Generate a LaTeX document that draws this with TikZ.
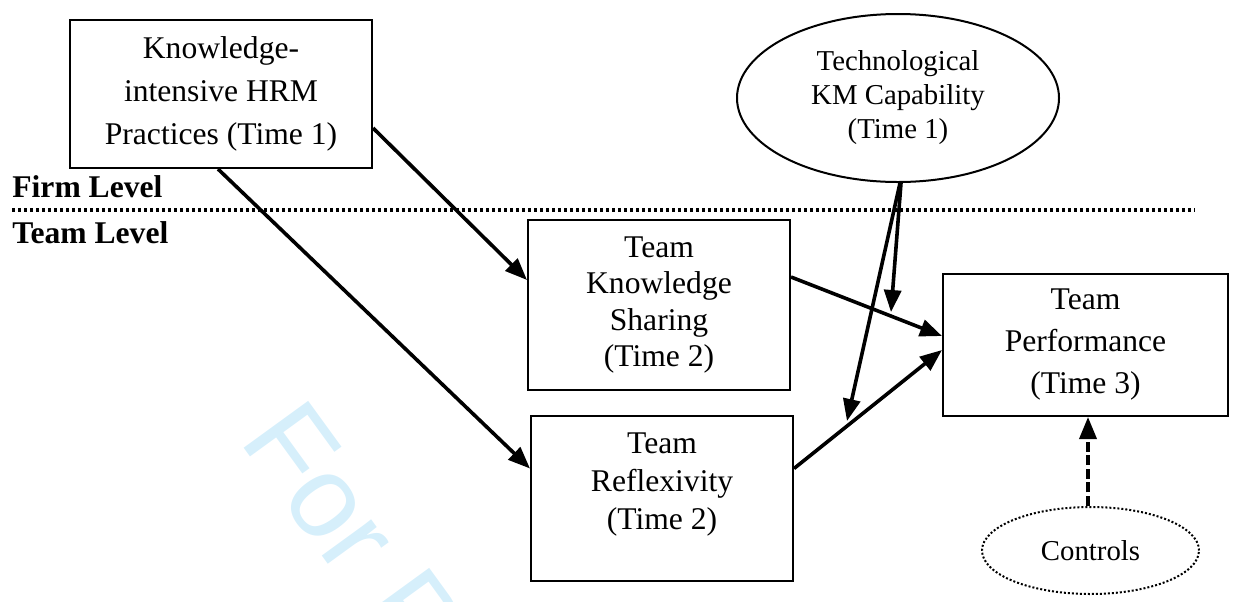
\documentclass[tikz,border=0pt]{standalone}
\usepackage{fontspec}
\setmainfont{Liberation Serif}
\newfontfamily\wmfont{Liberation Sans}
\usetikzlibrary{arrows.meta,shapes.geometric,calc}
\definecolor{wmcyan}{RGB}{214,239,251}
\tikzset{
  box/.style={draw, line width=1pt, align=center, inner sep=0pt},
  oval/.style={draw, ellipse, line width=1pt, align=center, inner sep=0pt},
  plain/.style={align=center, inner sep=0pt},
  conn/.style={line width=1.8pt, -{Triangle[length=11pt,width=8.5pt]}},
  lvl/.style={font=\bfseries\fontsize{15.8}{18}\selectfont, anchor=base west, inner sep=0pt}
}
\begin{document}
\begin{tikzpicture}[x=0.5pt,y=-0.5pt]
\path[use as bounding box] (0,0) rectangle (1236,601);
% watermark
\node[anchor=base west, rotate=-54, text=wmcyan, inner sep=0pt, font=\wmfont\fontsize{58}{60}\selectfont] (wm) at (238,440) {For P};
% level labels and separator
\node[lvl] (firm) at (12,197) {Firm Level};
\node[lvl] (team) at (12,243) {Team Level};
\coordinate (sepL) at (12,210);
\coordinate (sepR) at (1195,210);
\draw[line width=1.6pt, dash pattern=on 1.6pt off 1.4pt] (sepL) -- (sepR);
% nodes
\node[box, minimum width=151pt, minimum height=74pt, font=\fontsize{15.8}{21.5}\selectfont] (hrm) at (221,94) {Knowledge-\\intensive HRM\\Practices (Time 1)};
\node[oval, minimum width=161pt, minimum height=84pt, font=\fontsize{14.4}{17}\selectfont] (tech) at (898,98) {Technological\\KM Capability\\(Time 1)};
\node[box, minimum width=131pt, minimum height=85pt, font=\fontsize{15.8}{18.3}\selectfont] (tks) at (659,305) {Team\\Knowledge\\Sharing\\(Time 2)};
\node[box, minimum width=131pt, minimum height=82.5pt] (tr) at (662,498.5) {};
\node[plain, font=\fontsize{15.8}{19}\selectfont] (trtxt) at (662,485) {Team\\Reflexivity\\(Time 2)};
\node[box, minimum width=142.5pt, minimum height=71pt, font=\fontsize{15.8}{21}\selectfont] (tp) at (1085.5,345) {Team\\Performance\\(Time 3)};
\node[oval, minimum width=108.5pt, minimum height=43.5pt, line width=1pt, dash pattern=on 1pt off 1pt, font=\fontsize{14.4}{17}\selectfont] (ctrl) at (1090.5,550.5) {Controls};
% moderation end points
\coordinate (m1) at (891,312);
\coordinate (m2) at (847,421);
% connectors
\draw[conn] ([yshift=-17pt]hrm.east) -- ([yshift=12.5pt]tks.west);
\draw[conn] ([xshift=-1.5pt]hrm.south) -- ([yshift=15pt]tr.west);
\draw[conn] ([yshift=14pt]tks.east) -- ([yshift=4.5pt]tp.west);
\draw[conn] ([yshift=15pt]tr.east) -- ([yshift=-2.5pt]tp.west);
\draw[conn] ([xshift=1.5pt]tech.south) -- (m1);
\draw[conn] ([xshift=1pt]tech.south) -- (m2);
\draw[conn, dash pattern=on 5pt off 1.8pt] (ctrl.north -| tp.south) ++(2.5,0) coordinate (cn) -- (cn |- tp.south);
\end{tikzpicture}
\end{document}
